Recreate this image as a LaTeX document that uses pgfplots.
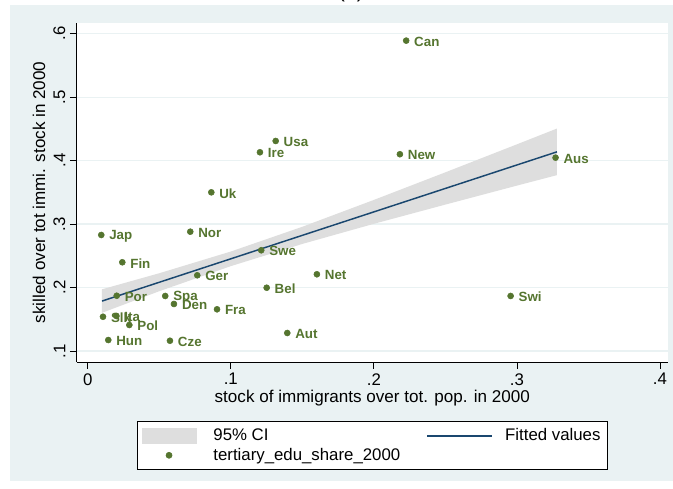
\documentclass[border=0pt]{standalone}
\usepackage{pgfplots}
\pgfplotsset{compat=1.18}
\usepackage{fontspec}
\setmainfont{Liberation Sans}
\definecolor{bluegray}{RGB}{234,242,243}
\definecolor{stgreen}{RGB}{85,117,47}
\definecolor{stnavy}{RGB}{26,71,111}
\definecolor{cigray}{RGB}{222,222,222}
\begin{document}
\begin{tikzpicture}
% page: 673 x 488 px, 1px = 0.75pt
\useasboundingbox (0,0) rectangle (504.75pt,366pt);
\fill[bluegray] (7.5pt,5.25pt) rectangle (504.75pt,362.25pt);
\node[anchor=base,font=\fontsize{16}{19}\selectfont] at (263.25pt,367.7pt) {(a)};
\begin{axis}[
  at={(57.5pt,94.5pt)}, anchor=south west,
  scale only axis,
  width=443.5pt, height=254.5pt,
  xmin=-0.0077, xmax=0.4056,
  ymin=0.0827, ymax=0.6173,
  axis x line*=bottom, axis y line*=left,
  axis line style={black,line width=0.6pt},
  axis background/.style={fill=white},
  tick align=outside,
  major tick length=5pt,
  tick style={black,line width=0.6pt},
  xtick={0,0.1,0.2,0.3,0.4},
  xticklabels={0,.1,.2,.3,.4},
  ytick={0.1,0.2,0.3,0.4,0.5,0.6},
  yticklabels={.1,.2,.3,.4,.5,.6},
  yticklabel style={rotate=90,anchor=south},
  ymajorgrids,
  major grid style={bluegray,line width=0.9pt},
  tick label style={font=\fontsize{12.6}{15}\selectfont},
  xlabel={stock of immigrants over tot. pop. in 2000},
  ylabel={skilled over tot immi. stock in 2000},
  every axis x label/.style={at={(axis description cs:0.5,-0.106)},anchor=center,
    font=\fontsize{12.8}{15}\selectfont},
  every axis y label/.style={at={(axis description cs:-0.0638,0.5)},rotate=90,anchor=center,
    font=\fontsize{12.8}{15}\selectfont},
  legend columns=2,
  legend cell align=left,
  legend style={at={(axis description cs:0.5,-0.174)},anchor=north,
    draw=black,line width=0.5pt,fill=white,
    font=\fontsize{12.6}{15}\selectfont,
    inner xsep=3pt,inner ysep=3.5pt,
    /tikz/every odd column/.append style={column sep=7pt},
    /tikz/every even column/.append style={column sep=17.8pt}},
]
% 95% confidence band
\addplot[fill=cigray,draw=none,
  legend image code/.code={\fill[cigray] (-20.6pt,-6pt) rectangle (20.6pt,6pt); \path (24.3pt,0pt);}]
  coordinates {
  (0.010,0.1972)(0.05,0.2225)(0.1,0.2567)(0.15,0.2957)(0.2,0.3380)(0.25,0.3815)(0.3,0.4256)(0.328,0.4505)
  (0.328,0.3771)(0.3,0.3606)(0.25,0.3307)(0.2,0.3004)(0.15,0.2687)(0.1,0.2337)(0.05,0.1942)(0.010,0.1602)
  } -- cycle;
\addlegendentry{95\% CI}
% fitted line
\addplot[stnavy,line width=1.1pt,
  legend image code/.code={\draw[stnavy,line width=1.1pt] (-24.4pt,0pt) -- (24.4pt,0pt);}]
  coordinates {(0.010,0.1787)(0.328,0.4138)};
\addlegendentry{Fitted values}
% countries
\addplot[only marks,mark=*,mark size=2.25pt,color=stgreen,
  nodes near coords,point meta=explicit symbolic,
  nodes near coords style={anchor=west,xshift=2.5pt,yshift=-0.8pt,text=stgreen,
    font=\fontsize{10}{12}\selectfont\bfseries},
  legend image code/.code={\draw[mark=*,mark size=2.25pt,stgreen] plot coordinates {(0pt,0pt)};}]
  table[meta=lab] {
x y lab
0.2226 0.5890 Can
0.1314 0.4309 Usa
0.1204 0.4131 Ire
0.2182 0.4100 New
0.3270 0.4046 Aus
0.0864 0.3500 Uk
0.0095 0.2828 Jap
0.0717 0.2880 Nor
0.1213 0.2587 Swe
0.0242 0.2398 Fin
0.1602 0.2209 Net
0.0766 0.2193 Ger
0.1251 0.1997 Bel
0.0203 0.1871 Por
0.0542 0.1867 Spa
0.2956 0.1867 Swi
0.0603 0.1741 Den
0.0904 0.1657 Fra
0.0107 0.1540 Slk
0.0201 0.1551 Ita
0.0291 0.1410 Pol
0.1395 0.1284 Aut
0.0144 0.1173 Hun
0.0575 0.1162 Cze
};
\addlegendentry{tertiary\_edu\_share\_2000}
\end{axis}
\end{tikzpicture}
\end{document}
